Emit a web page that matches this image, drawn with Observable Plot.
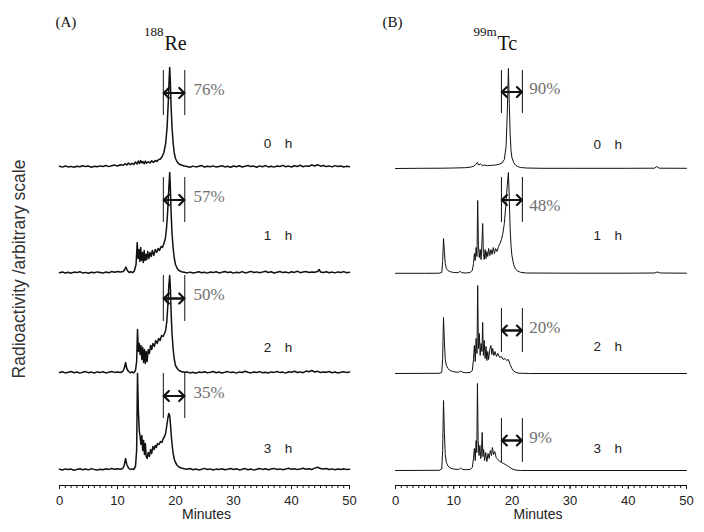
<!DOCTYPE html>
<html><head><meta charset="utf-8">
<script src="https://cdn.jsdelivr.net/npm/d3@7"></script>
<script src="https://cdn.jsdelivr.net/npm/@observablehq/plot@0.6"></script>
<style>
body{margin:0;background:#fff;}
#chart{display:flex;width:704px;height:532px;}
</style></head><body><div id="chart"></div>
<script>
// ---------- data ----------
const hours = ["0 h","1 h","2 h","3 h"];
const majorTicks = [0,10,20,30,40,50];
const rePercents = ["76%","57%","50%","35%"];
const tcPercents = ["90%","48%","20%","9%"];

// 188Re traces: [minutes, signal]
const re0h = [[0,1.2],[0.5,0.4],[1,1.5],[1.5,0.6],[2,1.1],[2.5,0.2],[3,1.3],[3.5,0.7],[4,1.8],[4.5,0.9],[5,1.4],[5.5,0.3],[6,1.2],[6.5,0.8],[7,1.6],[7.5,1],[8,2],[8.5,0.9],[9,1.7],[9.5,2.4],[10,1.5],[10.5,2.8],
[11,2.2],[11.3,3.8],[11.6,2.5],[11.9,4.5],[12.2,2.8],[12.5,4.2],[12.8,3],[13.1,5.5],[13.4,3.5],[13.6,6.5],[13.8,4],[14,7],[14.2,4.5],[14.4,6],[14.6,3.8],[14.8,6.5],[15,4.2],[15.3,5.8],[15.6,4.5],[15.9,6.8],[16.2,5],[16.5,7],[16.8,6],[17.1,8],[17.4,8.5],[17.7,11],[18,15],[18.3,24],[18.55,40],[18.75,65],[18.9,88],[19,100],[19.1,88],[19.25,60],[19.4,40],[19.6,24],[19.8,14],[20,9],[20.3,5.5],[20.6,3.5],[21,2.5],[21.5,1.5],
[22,1],[22.5,0.3],[23,1.4],[23.5,0.6],[24,1.2],[24.5,1.9],[25,0.5],[25.5,1.3],[26,0.7],[26.5,1.6],[27,0.4],[27.5,1.1],[28,1.8],[28.5,0.6],[29,1.3],[29.5,0.2],[30,1.5],[30.5,0.8],[31,1.7],[31.5,0.5],[32,1.2],[32.5,2],[33,0.9],[33.5,1.4],[34,0.3],[34.5,1.6],[35,0.8],[35.5,1.9],[36,0.6],[36.5,1.3],[37,0.4],[37.5,1.5],[38,1],[38.5,2.1],[39,0.7],[39.5,1.4],[40,0.5],[40.5,1.8],[41,1],[41.5,2.2],[42,0.8],[42.5,1.6],[43,1.2],[43.5,2.5],[44,1.5],[44.5,2.8],[45,1.3],[45.5,2],[46,0.9],[46.5,1.6],[47,0.6],[47.5,1.9],[48,1],[48.5,1.5],[49,0.5],[49.5,1.2],[50,0.8]];

const re1h = [[0,0.8],[0.5,1.5],[1,0.5],[1.5,1.2],[2,0.3],[2.5,1.4],[3,0.9],[3.5,1.7],[4,0.6],[4.5,1.1],[5,0.2],[5.5,1.3],[6,0.7],[6.5,1.6],[7,1],[7.5,0.4],[8,1.5],[8.5,0.8],[9,1.9],[9.5,1.2],[10,2],[10.5,1.4],
[11,2],[11.2,3.5],[11.45,6.5],[11.7,3],[12,1],[12.3,1.8],[12.6,0.8],[12.9,2.5],[13.2,9],[13.4,31],[13.55,15],[13.7,24],[13.85,12],[14,26],[14.15,13],[14.3,21],[14.45,11],[14.6,23],[14.75,13],[14.9,19],[15.05,14],[15.2,22],[15.4,15],[15.6,21],[15.8,17],[16,23],[16.25,18],[16.5,24],[16.75,21],[17,25],[17.25,23],[17.5,27],[17.75,26],[18,30],[18.25,35],[18.45,45],[18.65,62],[18.85,85],[19,101],[19.12,85],[19.25,60],[19.4,40],[19.6,25],[19.8,15],[20,9],[20.3,5],[20.6,3],[21,1.8],[21.5,1.2],
[22,0.6],[22.5,1.4],[23,0.5],[23.5,1.1],[24,1.8],[24.5,0.7],[25,1.3],[25.5,0.4],[26,1.5],[26.5,0.9],[27,1.8],[27.5,0.6],[28,1.2],[28.5,2],[29,1],[29.5,1.5],[30,0.4],[30.5,1.3],[31,0.8],[31.5,1.9],[32,0.6],[32.5,1.2],[33,2.1],[33.5,1],[34,1.6],[34.5,0.7],[35,1.4],[35.5,2.2],[36,1],[36.5,1.7],[37,0.5],[37.5,1.3],[38,2],[38.5,0.9],[39,1.5],[39.5,0.6],[40,1.8],[40.5,1.1],[41,2.3],[41.5,0.8],[42,1.5],[42.5,2],[43,1],[43.5,1.6],[44,1.2],[44.5,2],[44.75,4],[45,1.5],[45.5,1],[46,1.8],[46.5,0.7],[47,1.4],[47.5,0.6],[48,1.6],[48.5,1],[49,1.9],[49.5,0.8],[50,1.3]];

const re2h = [[0,1],[0.5,1.7],[1,0.6],[1.5,1.3],[2,2],[2.5,0.8],[3,1.5],[3.5,0.4],[4,1.2],[4.5,1.9],[5,0.7],[5.5,1.4],[6,0.5],[6.5,1.6],[7,0.9],[7.5,1.8],[8,0.6],[8.5,1.3],[9,2],[9.5,1.1],[10,1.6],[10.5,1],
[10.9,2],[11.15,5],[11.4,11],[11.6,5],[11.9,2],[12.2,0.8],[12.5,1.5],[12.8,0.6],[13.1,3],[13.3,12],[13.45,44],[13.6,22],[13.75,30],[13.9,19],[14.05,28],[14.2,14],[14.35,26],[14.5,11],[14.65,24],[14.8,10],[14.95,22],[15.1,12],[15.3,24],[15.5,20],[15.7,28],[15.9,24],[16.1,30],[16.35,27],[16.6,33],[16.85,30],[17.1,35],[17.35,33],[17.6,38],[17.85,37],[18.1,40],[18.3,43],[18.5,52],[18.7,70],[18.85,88],[19,98],[19.12,85],[19.25,60],[19.4,40],[19.6,24],[19.8,14],[20,8],[20.3,5],[20.6,3],[21,2],[21.5,1.2],
[22,1.5],[22.5,0.6],[23,1.2],[23.5,0.3],[24,1.4],[24.5,0.9],[25,1.8],[25.5,0.7],[26,1.3],[26.5,2],[27,0.8],[27.5,1.5],[28,0.5],[28.5,1.2],[29,1.9],[29.5,0.9],[30,1.4],[30.5,0.4],[31,1.6],[31.5,1],[32,2.2],[32.5,1.2],[33,0.6],[33.5,1.5],[34,1],[34.5,1.9],[35,0.7],[35.5,1.3],[36,0.5],[36.5,1.6],[37,1.1],[37.5,2],[38,0.9],[38.5,1.4],[39,0.4],[39.5,1.7],[40,1.2],[40.5,2.3],[41,1],[41.5,1.6],[42,0.8],[42.5,2.4],[43,1.7],[43.5,3],[44,1.5],[44.5,2.2],[45,0.9],[45.5,1.6],[46,1.2],[46.5,2],[47,0.8],[47.5,1.5],[48,0.5],[48.5,1.3],[49,1.8],[49.5,0.9],[50,1.4]];

const re3h = [[0,1.3],[0.5,0.5],[1,1.6],[1.5,0.9],[2,1.4],[2.5,0.3],[3,1.1],[3.5,1.8],[4,0.8],[4.5,1.5],[5,0.6],[5.5,1.9],[6,1.1],[6.5,0.4],[7,1.3],[7.5,0.8],[8,1.7],[8.5,1.1],[9,2],[9.5,1.3],[10,1.8],[10.5,1.2],
[10.9,2],[11.15,5],[11.4,12],[11.6,6],[11.9,2.5],[12.2,1],[12.5,1.6],[12.8,1],[13.1,4],[13.3,20],[13.45,97],[13.6,60],[13.75,40],[13.9,34],[14.05,26],[14.2,35],[14.35,20],[14.5,30],[14.65,16],[14.8,27],[14.95,14],[15.1,12],[15.3,18],[15.5,14],[15.7,21],[15.9,17],[16.1,24],[16.3,21],[16.5,25],[16.7,23],[16.9,27],[17.15,26],[17.4,29],[17.65,28],[17.9,32],[18.1,34],[18.3,37],[18.5,45],[18.7,53],[18.85,57],[19,55],[19.15,45],[19.3,33],[19.45,24],[19.6,17],[19.8,11],[20,8],[20.3,5],[20.6,3.5],[21,2.5],[21.5,1.8],
[22,1.2],[22.5,2],[23,0.8],[23.5,1.5],[24,0.6],[24.5,1.3],[25,2.1],[25.5,1],[26,1.6],[26.5,0.5],[27,1.4],[27.5,0.9],[28,1.8],[28.5,0.7],[29,1.3],[29.5,2],[30,1],[30.5,1.7],[31,0.6],[31.5,1.2],[32,1.9],[32.5,0.8],[33,1.5],[33.5,0.4],[34,1.3],[34.5,2],[35,1.1],[35.5,1.7],[36,0.8],[36.5,1.4],[37,2.1],[37.5,1],[38,1.6],[38.5,0.7],[39,1.4],[39.5,2.2],[40,1.3],[40.5,1.8],[41,0.9],[41.5,1.5],[42,2.3],[42.5,1.2],[43,1.8],[43.5,1],[44,2.4],[44.5,3.2],[45,2],[45.5,1.4],[46,2],[46.5,1],[47,1.6],[47.5,0.8],[48,1.5],[48.5,1.1],[49,1.8],[49.5,0.9],[50,1.3]];

// 99mTc traces: [minutes, signal]
const tc0h = [[0,0],[4,0.2],[8,0.3],[10,0.5],[12,0.8],[13,1.5],[13.5,2.5],[13.8,4],[14.05,6],[14.3,3.5],[14.6,4.5],[14.9,3],[15.3,3.5],[15.8,2.8],[16.5,3.2],[17.2,3.5],[17.8,4.2],[18.3,5.5],[18.7,9],[19,22],[19.2,55],[19.4,100],[19.55,65],[19.7,35],[19.85,18],[20,11],[20.3,6],[20.6,3.5],[21,2],[21.5,1],[22.5,0.5],[25,0.2],[30,0.2],[40,0.2],[44.5,0.3],[44.9,2],[45.3,0.3],[50,0.2]];

const tc1h = [[0,0.2],[5,0.2],[7.5,0.3],[7.95,1],[8.1,12],[8.25,35],[8.4,22],[8.55,10],[8.75,5],[9,3],[9.4,1.8],[10,1],[10.8,0.8],[11.1,2.2],[11.4,0.8],[12,0.5],[12.8,1],[13.2,3],[13.4,10],[13.55,20],[13.7,13],[13.85,26],[14,17],[14.12,73],[14.25,28],[14.4,16],[14.55,24],[14.7,14],[14.85,30],[14.98,50],[15.1,20],[15.25,14],[15.4,24],[15.55,15],[15.7,22],[15.85,17],[16,25],[16.2,18],[16.4,24],[16.6,19],[16.8,26],[17,20],[17.2,25],[17.45,22],[17.7,27],[17.95,30],[18.2,34],[18.45,40],[18.7,50],[18.95,68],[19.2,88],[19.4,101],[19.55,75],[19.7,45],[19.85,28],[20,18],[20.3,9],[20.6,4.5],[21,2.5],[21.5,1.2],[22.5,0.5],[30,0.3],[40,0.3],[44.5,0.5],[45,1.5],[45.5,0.5],[50,0.3]];

const tc2h = [[0,0],[7.5,0.2],[7.95,1],[8.1,15],[8.25,56],[8.4,32],[8.55,14],[8.75,8],[9,5],[9.4,3],[10,1.8],[10.6,1.2],[11,1.6],[11.2,2.8],[11.45,1.3],[12,0.8],[12.8,1],[13.2,3],[13.4,14],[13.55,28],[13.7,12],[13.85,35],[14,20],[14.12,88],[14.25,25],[14.4,40],[14.55,18],[14.7,30],[14.85,22],[14.98,51],[15.1,18],[15.25,33],[15.4,15],[15.55,27],[15.7,13],[15.85,22],[16,14],[16.2,24],[16.4,28],[16.55,19],[16.7,25],[16.9,18],[17.1,22],[17.35,17],[17.6,20],[17.9,16],[18.2,17],[18.5,14],[18.8,15],[19.1,13],[19.4,14],[19.7,9],[20,5],[20.3,2.5],[20.7,1],[21.2,0.3],[23,0],[50,0]];

const tc3h = [[0,0],[7.5,0.2],[7.95,1.5],[8.1,20],[8.25,70],[8.4,38],[8.55,16],[8.75,8],[9,4.5],[9.4,2.5],[10,1.5],[10.6,1],[11,1.5],[11.2,2.5],[11.45,1.2],[12,0.8],[12.8,1],[13.2,3],[13.4,12],[13.55,22],[13.7,10],[13.85,30],[13.97,18],[14.08,87],[14.2,30],[14.35,15],[14.5,25],[14.65,12],[14.78,20],[14.9,38],[15.02,14],[15.15,21],[15.3,10],[15.5,18],[15.7,9],[15.9,17],[16.1,12],[16.3,20],[16.5,15],[16.65,23],[16.85,16],[17.05,19],[17.3,13],[17.6,11],[17.9,9],[18.2,8],[18.6,7],[19,5.5],[19.4,4],[19.8,2.5],[20.2,1.2],[20.7,0.4],[21.5,0],[50,0]];

// stacking offsets of each trace on the arbitrary scale
const reOffsets = [318, 212, 112, 15];
const tcOffsets = [317, 212, 112, 15];
// integration windows (minutes)
const reWindow = [17.9, 21.6];
const tcWindow = [18.2, 21.8];

// ---------- layout ----------
const reLayout = {
  brackets: [[52,97],[51,96],[52,98],[52,97]],
  pctDy: [78,77,79,78], hourDy: [24,38,26,22], pctX: 23.1, hourX: 35.2
};
const tcLayout = {
  brackets: [[55,98],[51,96],[21,65],[8,52]],
  pctDy: [80,68,46,33], hourDy: [24,38,27,22], pctX: 23.0, hourX: 34.0
};

const SERIF = "Liberation Serif, Times New Roman, serif";

function panel(o) {
  const rows = o.traces.flatMap((tr, i) => tr.map(([t, v]) => ({hour: hours[i], t, y: o.offsets[i] + v})));
  const ann = hours.map((h, i) => {
    const lo = o.offsets[i] + o.layout.brackets[i][0], hi = o.offsets[i] + o.layout.brackets[i][1];
    return {hour: h, pct: o.pcts[i], lo, hi, mid: (lo + hi) / 2,
      py: o.offsets[i] + o.layout.pctDy[i], hy: o.offsets[i] + o.layout.hourDy[i]};
  });
  const ruleRows = ann.flatMap(a => o.window.map(x => ({x, lo: a.lo, hi: a.hi})));
  const arrowOpts = {y1: "mid", y2: "mid", stroke: "#111", strokeWidth: 2.2, headLength: 6, headAngle: 90, insetStart: 0.5, insetEnd: 0.5};
  const marks = [
    Plot.ruleY([0], {stroke: "#111", strokeWidth: 1}),
    Plot.axisX(d3.range(0, 51), {tickSize: 3, tickFormat: () => "", stroke: "#111", label: null}),
    Plot.axisX(majorTicks, {tickSize: 4, tickPadding: 6, fontSize: 13, label: null, stroke: "#111", fill: "#222"}),
    Plot.line(rows, {x: "t", y: "y", z: "hour", stroke: "#111", strokeWidth: o.strokeWidth, strokeLinejoin: "round"}),
    Plot.ruleX(ruleRows, {x: "x", y1: "lo", y2: "hi", stroke: "#111", strokeWidth: 1}),
    Plot.arrow(ann, {...arrowOpts, x1: () => o.window[1], x2: () => o.window[0]}),
    Plot.arrow(ann, {...arrowOpts, x1: () => o.window[0], x2: () => o.window[1]}),
    Plot.text(ann, {x: () => o.layout.pctX, y: "py", text: "pct", textAnchor: "start", fontFamily: SERIF, fontSize: 17, fill: "#707070"}),
    Plot.text(ann, {x: () => o.layout.hourX, y: "hy", text: d => d.hour.replace(" ", "\u2003"), textAnchor: "start", fontSize: 13.5, fill: "#222"}),
    Plot.text([o.tag], {frameAnchor: "top-left", dx: o.tagDx, dy: 16, text: d => d, textAnchor: "start", fontFamily: SERIF, fontSize: 15, fill: "#111"}),
    Plot.text([o.sup], {frameAnchor: "top-left", dx: o.supDx, dy: 26, text: d => d, textAnchor: "end", fontFamily: SERIF, fontSize: 13, fill: "#111"}),
    Plot.text([o.main], {frameAnchor: "top-left", dx: o.supDx + 1, dy: 35, text: d => d, textAnchor: "start", fontFamily: SERIF, fontSize: 20, fill: "#111"}),
    Plot.text(["Minutes"], {frameAnchor: "bottom", dx: o.minDx, dy: 33, text: d => d, fontSize: 14, fill: "#222"})
  ];
  if (o.yLabel) marks.push(Plot.text([o.yLabel], {frameAnchor: "left", dx: -40, dy: 26, rotate: -90, textAnchor: "middle", text: d => d, fontSize: 17.5, fill: "#333"}));
  return Plot.plot({
    width: 352, height: 532,
    marginLeft: o.marginLeft, marginRight: o.marginRight, marginTop: 0, marginBottom: 47,
    x: {domain: [0, 50]},
    y: {domain: [0, 485], axis: null},
    style: {fontFamily: "Liberation Sans, Arial, sans-serif", background: "transparent", overflow: "visible", color: "#111"},
    marks
  });
}

const chart = document.getElementById("chart");
chart.append(panel({
  traces: [re0h, re1h, re2h, re3h], offsets: reOffsets, pcts: rePercents, window: reWindow, layout: reLayout,
  strokeWidth: 1.5, marginLeft: 59, marginRight: 3, tag: "(A)", tagDx: -4, sup: "188", main: "Re", supDx: 104, minDx: 2,
  yLabel: "Radioactivity /arbitrary scale"
}));
chart.append(panel({
  traces: [tc0h, tc1h, tc2h, tc3h], offsets: tcOffsets, pcts: tcPercents, window: tcWindow, layout: tcLayout,
  strokeWidth: 1, marginLeft: 43, marginRight: 18, tag: "(B)", tagDx: -13, sup: "99m", main: "Tc", supDx: 101, minDx: -3
}));
</script></body></html>
